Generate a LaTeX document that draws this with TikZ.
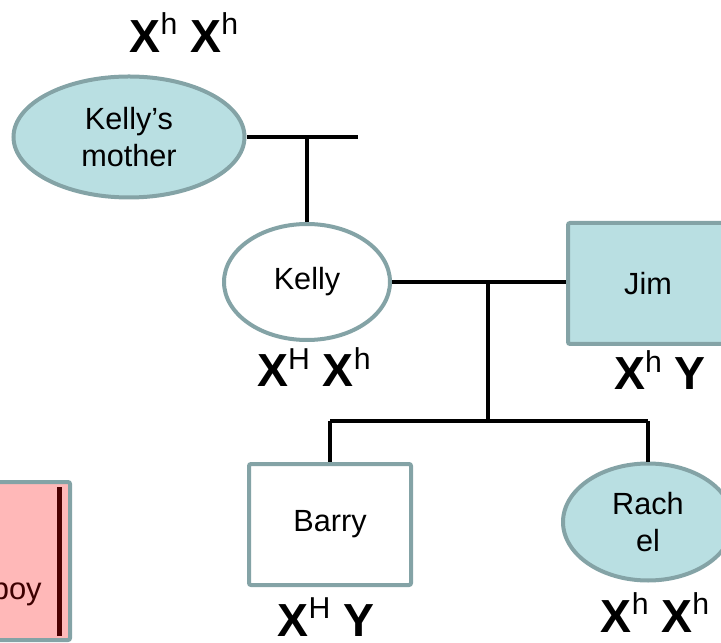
\documentclass[tikz,border=0pt]{standalone}
\usepackage{fontspec}
\setmainfont{Liberation Sans}
\usetikzlibrary{shapes.geometric}

\definecolor{carrier}{RGB}{185,223,226}
\definecolor{edge}{RGB}{132,163,166}
\definecolor{legendpink}{RGB}{255,184,184}
\definecolor{legenddark}{RGB}{75,0,0}

% allele with raised superscript
\newcommand{\allele}[2]{#1\raisebox{12.8pt}{\fontsize{21.5}{21.5}\mdseries\selectfont #2}}

\begin{document}
\begin{tikzpicture}[
	female/.style={ellipse,draw=edge,line width=0.1cm,inner sep=0pt,font=\fontsize{21.8}{26}\selectfont,align=center},
	male/.style={rectangle,rounded corners=0.05cm,draw=edge,line width=0.1cm,inner sep=0pt,font=\fontsize{21.8}{26}\selectfont},
	geno/.style={anchor=base,inner sep=0pt,font=\fontsize{33}{36}\selectfont\bfseries},
	link/.style={line width=0.1cm}]
	\useasboundingbox (0,0) rectangle (18.025,16.05);

	%legend (cut off at the edge)
	\fill[legendpink] (-2.5,0.05) rectangle (1.75,4);
	\draw[edge,line width=0.1cm,rounded corners=0.05cm] (-2.5,0.05) rectangle (1.75,4);
	\fill[legenddark] (1.425,0.15) rectangle (1.55,3.875);
	\node[anchor=base east,inner sep=0pt,text=legenddark!80!black,font=\fontsize{22}{26}\selectfont] (legend) at (1.05,1.075) {boy};

	%people
	\node[female,fill=carrier,minimum width=5.775cm,minimum height=3.025cm] (mother) at (3.225,12.625) {Kelly’s\\mother};
	\node[female,fill=white,minimum width=4.15cm,minimum height=2.9cm] (kelly) at (7.675,9.0) {Kelly};
	\node[male,fill=carrier,minimum width=4.0cm,minimum height=3.025cm] (jim) at (16.2,8.9625) {Jim};
	\node[male,fill=white,minimum width=4.05cm,minimum height=3.025cm] (barry) at (8.25,2.9375) {Barry};
	\node[female,fill=carrier,minimum width=4.25cm,minimum height=2.925cm] (rachel) at (16.2,3.0) {Rach\\el};

	%genotypes
	\node[geno] (gmother) at (4.6,14.725)  {\allele{X}{h} \allele{X}{h}};
	\node[geno] (gkelly)  at (7.85,6.375)  {\allele{X}{H} \allele{X}{h}};
	\node[geno] (gjim)    at (16.5,6.3)    {\allele{X}{h} Y};
	\node[geno] (gbarry)  at (8.15,0.15)   {\allele{X}{H} Y};
	\node[geno] (grachel) at (16.375,0.25) {\allele{X}{h} \allele{X}{h}};

	%mating and descent lines
	\coordinate (mend) at (8.95,12.625);
	\coordinate (m1) at (kelly.north |- mother.east);
	\draw[link] (mother.east) -- (mend);
	\draw[link] (m1) -- (kelly.north);

	\coordinate (m2) at (12.2,9.0);
	\coordinate (sib) at (12.2,5.525);
	\draw[link] (kelly.east) -- (kelly.east -| jim.west);
	\draw[link] (m2) -- (sib);
	\draw[link] (barry.north |- sib) -- (rachel.north |- sib);
	\draw[link] (barry.north |- sib) -- (barry.north);
	\draw[link] (rachel.north |- sib) -- (rachel.north);
\end{tikzpicture}
\end{document}
